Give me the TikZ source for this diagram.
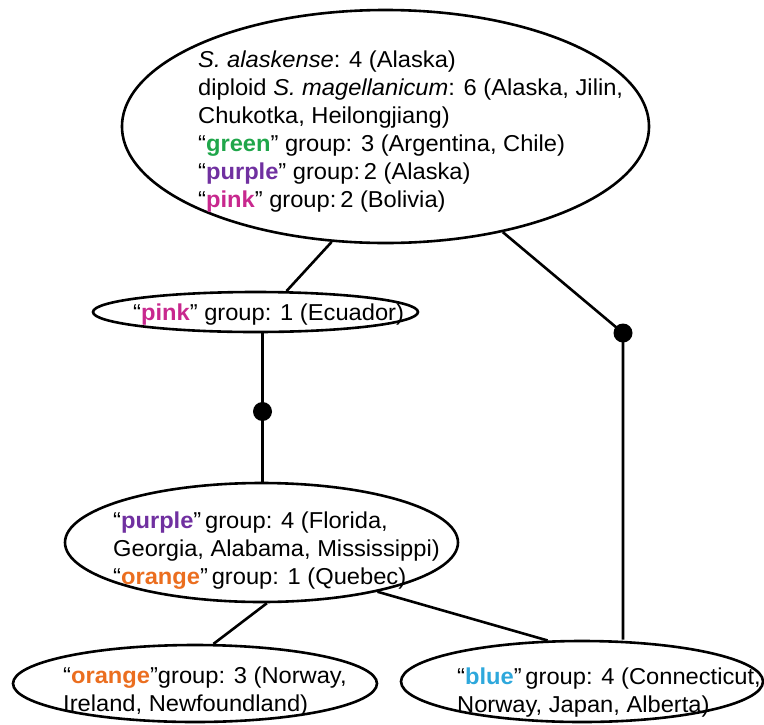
\documentclass[tikz,border=0pt]{standalone}
\usepackage{fontspec}
\setmainfont{Liberation Sans}[FakeStretch=1.03]
\usepackage{tikz}
\usetikzlibrary{shapes.geometric}
\usepackage{xcolor}
\definecolor{cgreen}{HTML}{1FA64A}
\definecolor{cpurple}{HTML}{7030A0}
\definecolor{cpink}{HTML}{C8288E}
\definecolor{corange}{HTML}{EB6E1F}
\definecolor{cblue}{HTML}{2EA8DC}
\tikzset{
  clade/.style={draw=black,ellipse,line width=2.6pt,inner sep=0pt},
  junction/.style={circle,fill=black,inner sep=0pt,minimum size=19pt},
  branch/.style={draw=black,line width=2.6pt},
  cladetext/.style={anchor=west,align=left,inner sep=0pt,
    font=\fontsize{23}{28}\selectfont}
}
\newcommand{\grp}[2]{“\textcolor{#1}{\textbf{#2}}”}
\begin{document}
\begin{tikzpicture}[x=1pt,y=-1pt]
  \useasboundingbox (0,0) rectangle (764,724);
  \node[clade,minimum width=527pt,minimum height=233pt] (root) at (385.5,126.5) {};
  \node[clade,minimum width=325pt,minimum height=40pt] (ecu) at (255.5,312) {};
  \node[clade,minimum width=393pt,minimum height=119pt] (flo) at (261.5,542.5) {};
  \node[clade,minimum width=364pt,minimum height=77pt] (nor) at (195,683.5) {};
  \node[clade,minimum width=362pt,minimum height=81pt] (con) at (582,681.5) {};
  \node[junction] (jecu) at (262.5,411.5) {};
  \node[junction] (jroot) at (623,333) {};
  \node[cladetext] (rootT) at (198,132) {\textit{S. alaskense}: 4 (Alaska)\\
    diploid \textit{S. magellanicum}: 6 (Alaska, Jilin,\\
    Chukotka, Heilongjiang)\\
    \grp{cgreen}{green} group: 3 (Argentina, Chile)\\
    \grp{cpurple}{purple} group:\,2 (Alaska)\\
    \grp{cpink}{pink} group:\,2 (Bolivia)};
  \node[cladetext] (ecuT) at (133,314.3) {\grp{cpink}{pink} group: 1 (Ecuador)};
  \node[cladetext] (floT) at (113,550.3) {\grp{cpurple}{purple}\,group: 4 (Florida,\\
    Georgia, Alabama, Mississippi)\\
    \grp{corange}{orange}\,group: 1 (Quebec)};
  \node[cladetext] (norT) at (63,691.3) {\grp{corange}{orange}group: 3 (Norway,\\
    Ireland, Newfoundland)};
  \node[cladetext] (conT) at (457,692.3) {\grp{cblue}{blue}\,group: 4 (Connecticut,\\
    Norway, Japan, Alberta)};
  \draw[branch] (root.245) -- (ecu.34);
  \draw[branch] (root.318) -- (jroot.center) -- (jroot |- con.north);
  \draw[branch] (jecu |- ecu.south) -- (jecu |- flo.north);
  \draw[branch] (flo.275) -- (nor.65);
  \draw[branch] (flo.337) -- (con.130);
\end{tikzpicture}
\end{document}
